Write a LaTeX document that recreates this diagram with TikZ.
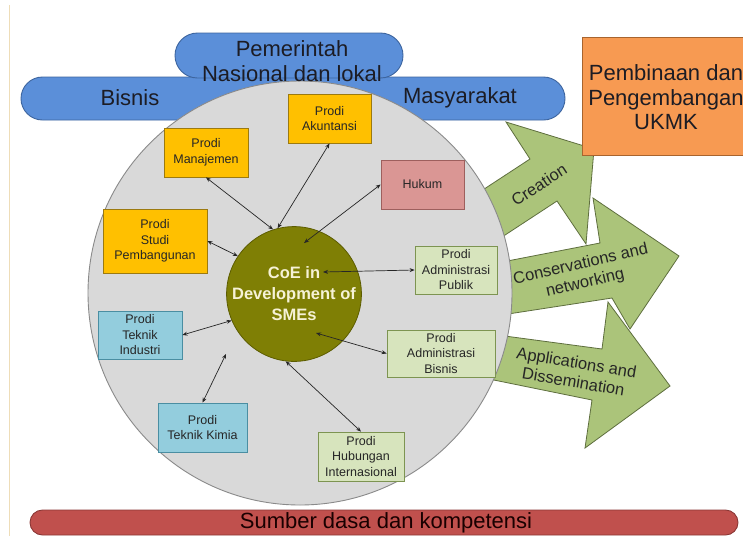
\documentclass[tikz,border=0pt]{standalone}
\usepackage{fontspec}
\setmainfont{Liberation Sans}
\usetikzlibrary{arrows.meta,calc}
\definecolor{pillblue}{HTML}{5B8FD9}
\definecolor{pillborder}{HTML}{3D659F}
\definecolor{orangefill}{HTML}{F79A52}
\definecolor{orangeborder}{HTML}{A8642E}
\definecolor{greenfill}{HTML}{ABC47A}
\definecolor{greenborder}{HTML}{5E6E3E}
\definecolor{circlegray}{HTML}{D9D9D9}
\definecolor{circleborder}{HTML}{8A8A8A}
\definecolor{coefill}{HTML}{7F7F05}
\definecolor{coeborder}{HTML}{5C5C00}
\definecolor{coetext}{HTML}{F6F2D6}
\definecolor{yfill}{HTML}{FFC000}
\definecolor{yborder}{HTML}{9C7A10}
\definecolor{pfill}{HTML}{DA9694}
\definecolor{pborder}{HTML}{9E5F5D}
\definecolor{lgfill}{HTML}{D7E4BD}
\definecolor{lgborder}{HTML}{7D9451}
\definecolor{lbfill}{HTML}{93CDDD}
\definecolor{lbborder}{HTML}{4A8EA2}
\definecolor{redfill}{HTML}{C0504D}
\definecolor{redborder}{HTML}{8C3836}
\definecolor{darktext}{HTML}{1C1C24}
\definecolor{linetan}{HTML}{EEDDB8}
\begin{document}
\begin{tikzpicture}[x=1pt,y=-1pt,
  pillshape/.style={draw=pillborder, fill=pillblue, line width=0.9pt, inner sep=0pt},
  bigtext/.style={font=\fontsize{22}{24.5}\selectfont, text=darktext, align=center, inner sep=0pt},
  prodibox/.style={line width=0.8pt, inner sep=0pt, align=center, font=\fontsize{12.5}{15.5}\selectfont, text=black!85},
  ybox/.style={prodibox, fill=yfill, draw=yborder},
  pbox/.style={prodibox, fill=pfill, draw=pborder},
  gbox/.style={prodibox, fill=lgfill, draw=lgborder},
  bbox/.style={prodibox, fill=lbfill, draw=lbborder},
  biarrow/.style={{Stealth[length=5pt,width=4pt]}-{Stealth[length=5pt,width=4pt]}, line width=0.7pt, draw=black!85},
  greenarrow/.style={fill=greenfill, draw=greenborder, line width=0.8pt, line join=miter},
  arrowlabel/.style={font=\fontsize{16.5}{19.5}\selectfont, align=center, text=black!85, inner sep=0pt}
]
\path[use as bounding box, clip] (0,0) rectangle (743,536);
\fill[white] (0,0) rectangle (743,536);
\draw[linetan, line width=0.6pt] (9,5) -- (9,536);

% band Bisnis - Masyarakat
\node[pillshape, rounded corners=21.5pt, minimum width=544pt, minimum height=43pt] (band) at (293,98.5) {};
\node[bigtext] (bisnis) at (130,98) {Bisnis};
\node[bigtext] (masy) at (460,98) {Masyarakat};

% green block arrows
\draw[greenarrow] (446,214) -- (530,159) -- (506,122) -- (594,149) -- (586,244) -- (557,201) -- (473,256) -- cycle;
\draw[greenarrow] (430,276) -- (600,243) -- (593,198) -- (679,256) -- (630,329) -- (612,298) -- (430,326) -- cycle;
\draw[greenarrow] (430,326) -- (602,349) -- (608,302) -- (670,386) -- (585,448) -- (592,400) -- (430,367) -- cycle;
\node[arrowlabel, rotate=33] (creation) at (539,185) {Creation};
\node[arrowlabel, rotate=13] (conserv) at (583,274) {Conservations and\\networking};
\node[arrowlabel, rotate=-9.5] (applic) at (575,372) {Applications and\\Dissemination};

% big circle
\node[circle, draw=circleborder, fill=circlegray, line width=0.9pt, minimum size=424pt, inner sep=0pt] (bigc) at (300,293) {};

% Pemerintah pill
\node[pillshape, rounded corners=22.5pt, minimum width=228pt, minimum height=45pt] (pem) at (289,55.5) {};
\node[bigtext] (pemtext) at (292,61) {Pemerintah\\Nasional dan lokal};

% orange box
\node[draw=orangeborder, fill=orangefill, line width=0.9pt, minimum width=168pt, minimum height=118pt, inner sep=0pt] (ukmk) at (666,96) {};
\node[bigtext] (ukmktext) at (666,97.5) {Pembinaan dan\\Pengembangan\\UKMK};

% CoE
\node[circle, draw=coeborder, fill=coefill, line width=0.8pt, minimum size=132pt, inner sep=0pt,
      font=\bfseries\fontsize{16.5}{21}\selectfont, text=coetext, align=center] (coe) at (294,294) {CoE in\\Development of\\SMEs};

% prodi boxes
\node[ybox, minimum width=83pt, minimum height=49pt] (akun) at (329.5,118.5) {Prodi\\Akuntansi};
\node[ybox, minimum width=84pt, minimum height=49pt] (man) at (206,152.5) {Prodi\\Manajemen};
\node[pbox, minimum width=83pt, minimum height=49pt] (hukum) at (422.5,184.5) {Hukum};
\node[ybox, minimum width=104pt, minimum height=64pt] (studi) at (155,241) {Prodi\\Studi\\Pembangunan};
\node[gbox, minimum width=82pt, minimum height=48pt] (publik) at (456,270) {Prodi\\Administrasi\\Publik};
\node[bbox, minimum width=84pt, minimum height=48pt] (ind) at (140,335) {Prodi\\Teknik\\Industri};
\node[bbox, minimum width=89pt, minimum height=49pt] (kimia) at (202.5,427.5) {Prodi\\Teknik Kimia};
\node[gbox, minimum width=108pt, minimum height=47pt] (adbis) at (441,353.5) {Prodi\\Administrasi\\Bisnis};
\node[gbox, minimum width=86pt, minimum height=49pt] (hub) at (361,456.5) {Prodi\\Hubungan\\Internasional};

% connector ends inside
\coordinate (hukumend) at (304,243);
\coordinate (publikend) at (323,272);
\coordinate (adbisend) at (316,333);
\coordinate (kimiaend) at (226,354);

\draw[biarrow] (man.south) -- (coe.108);
\draw[biarrow] (akun.south) -- (coe.104);
\draw[biarrow] (hukum.west) -- (hukumend);
\draw[biarrow] (studi.east) -- (coe.146.5);
\draw[biarrow] (publik.west) -- (publikend);
\draw[biarrow] (ind.east) -- (coe.203.5);
\draw[biarrow] (kimia.north) -- (kimiaend);
\draw[biarrow] (adbis.west) -- (adbisend);
\draw[biarrow] (hub.north) -- (coe.263);

% bottom band
\node[draw=redborder, fill=redfill, line width=0.9pt, rounded corners=12.5pt, minimum width=708pt, minimum height=25pt, inner sep=0pt] (sumber) at (384,522.5) {};
\node[bigtext, text=black!90!red] (sumbertext) at (386,522.5) {Sumber dasa dan kompetensi};
\end{tikzpicture}
\end{document}
